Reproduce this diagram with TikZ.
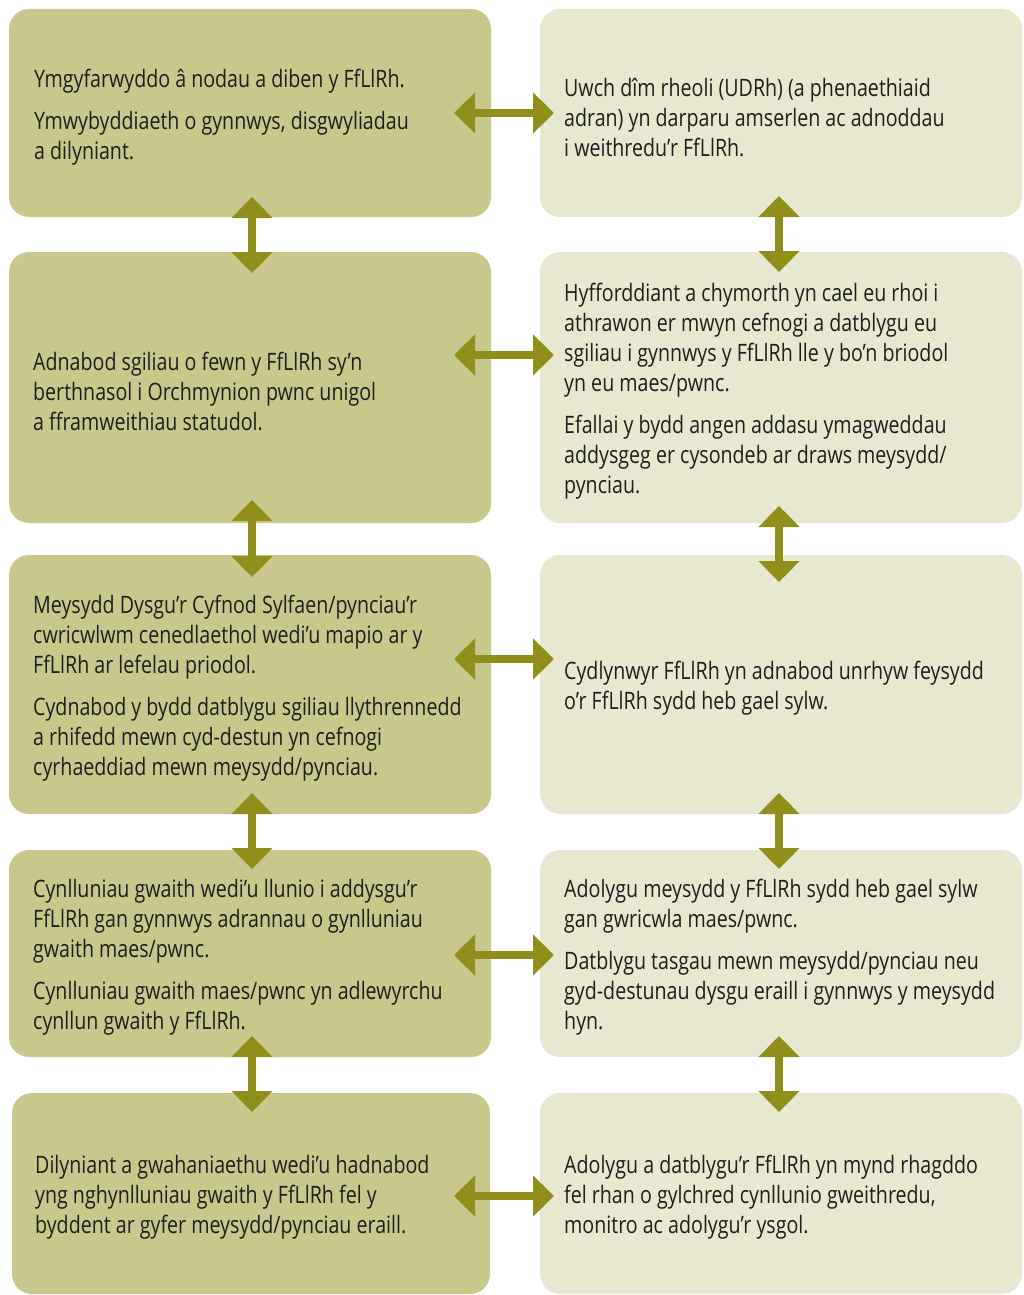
\documentclass[tikz,border=0pt]{standalone}
\usepackage{fontspec}
\setmainfont{Open Sans}[FakeStretch=0.818]
\usetikzlibrary{arrows.meta,calc}
\definecolor{boxLcol}{RGB}{200,200,140}
\definecolor{boxRcol}{RGB}{232,232,208}
\definecolor{arrcol}{RGB}{145,143,28}
\definecolor{txtcol}{RGB}{30,30,30}
\tikzset{
  boxbase/.style={rectangle, rounded corners=20pt, draw=none, inner sep=0pt, outer sep=0pt},
  boxL/.style={boxbase, fill=boxLcol},
  boxR/.style={boxbase, fill=boxRcol},
  txt/.style={anchor=west, align=left, inner sep=0pt, text=txtcol, font=\fontsize{24}{30}\selectfont},
  dbl/.style={draw=arrcol, line width=8.5pt, {Triangle[width=40pt,length=21pt,fill=arrcol]}-{Triangle[width=40pt,length=21pt,fill=arrcol]}}
}
\begin{document}
\begin{tikzpicture}[x=1pt,y=-1pt]
\useasboundingbox (0,0) rectangle (1023,1295);
% boxes
\node[boxL, minimum width=482pt, minimum height=208pt] (L1) at (250,113) {};
\node[boxR, minimum width=482pt, minimum height=208pt] (R1) at (781,113) {};
\node[boxL, minimum width=482pt, minimum height=271pt] (L2) at (250,387.5) {};
\node[boxR, minimum width=482pt, minimum height=271pt] (R2) at (781,387.5) {};
\node[boxL, minimum width=482pt, minimum height=259pt] (L3) at (250,684.5) {};
\node[boxR, minimum width=482pt, minimum height=259pt] (R3) at (781,684.5) {};
\node[boxL, minimum width=482pt, minimum height=207pt] (L4) at (250,953.5) {};
\node[boxR, minimum width=482pt, minimum height=207pt] (R4) at (781,953.5) {};
\node[boxL, minimum width=478pt, minimum height=201pt] (L5) at (251,1193.5) {};
\node[boxR, minimum width=482pt, minimum height=201pt] (R5) at (781,1193.5) {};
% texts
\node[txt] (tL1) at ($(L1.west)+(25,4)$) {Ymgyfarwyddo â nodau a diben y FfLlRh.\\[12pt]Ymwybyddiaeth o gynnwys, disgwyliadau\\a dilyniant.};
\node[txt] (tR1) at ($(R1.west)+(24,4)$) {Uwch dîm rheoli (UDRh) (a phenaethiaid\\adran) yn darparu amserlen ac adnoddau\\i weithredu’r FfLlRh.};
\node[txt] (tL2) at ($(L2.west)+(24,4)$) {Adnabod sgiliau o fewn y FfLlRh sy’n\\berthnasol i Orchmynion pwnc unigol\\a fframweithiau statudol.};
\node[txt] (tR2) at ($(R2.west)+(24,4)$) {Hyfforddiant a chymorth yn cael eu rhoi i\\athrawon er mwyn cefnogi a datblygu eu\\sgiliau i gynnwys y FfLlRh lle y bo’n briodol\\yn eu maes/pwnc.\\[12pt]Efallai y bydd angen addasu ymagweddau\\addysgeg er cysondeb ar draws meysydd/\\pynciau.};
\node[txt] (tL3) at ($(L3.west)+(24,4)$) {Meysydd Dysgu’r Cyfnod Sylfaen/pynciau’r\\cwricwlwm cenedlaethol wedi’u mapio ar y\\FfLlRh ar lefelau priodol.\\[12pt]Cydnabod y bydd datblygu sgiliau llythrennedd\\a rhifedd mewn cyd-destun yn cefnogi\\cyrhaeddiad mewn meysydd/pynciau.};
\node[txt] (tR3) at ($(R3.west)+(24,4)$) {Cydlynwyr FfLlRh yn adnabod unrhyw feysydd\\o’r FfLlRh sydd heb gael sylw.};
\node[txt] (tL4) at ($(L4.west)+(24,4)$) {Cynlluniau gwaith wedi’u llunio i addysgu’r\\FfLlRh gan gynnwys adrannau o gynlluniau\\gwaith maes/pwnc.\\[12pt]Cynlluniau gwaith maes/pwnc yn adlewyrchu\\cynllun gwaith y FfLlRh.};
\node[txt] (tR4) at ($(R4.west)+(24,4)$) {Adolygu meysydd y FfLlRh sydd heb gael sylw\\gan gwricwla maes/pwnc.\\[12pt]Datblygu tasgau mewn meysydd/pynciau neu\\gyd-destunau dysgu eraill i gynnwys y meysydd\\hyn.};
\node[txt] (tL5) at ($(L5.west)+(23,4)$) {Dilyniant a gwahaniaethu wedi’u hadnabod\\yng nghynlluniau gwaith y FfLlRh fel y\\byddent ar gyfer meysydd/pynciau eraill.};
\node[txt] (tR5) at ($(R5.west)+(24,4)$) {Adolygu a datblygu’r FfLlRh yn mynd rhagddo\\fel rhan o gylchred cynllunio gweithredu,\\monitro ac adolygu’r ysgol.};
% horizontal arrows
\draw[dbl] ($(L1.east)+(-37,0)$) -- ($(R1.west)+(14,0)$);
\draw[dbl] ($(L2.east)+(-37,-32.5)$) -- ($(R2.west)+(14,-32.5)$);
\draw[dbl] ($(L3.east)+(-37,-25.5)$) -- ($(R3.west)+(14,-25.5)$);
\draw[dbl] ($(L4.east)+(-37,1.5)$) -- ($(R4.west)+(14,1.5)$);
\draw[dbl] ($(L5.east)+(-36,2.5)$) -- ($(R5.west)+(14,2.5)$);
% vertical arrows left
\draw[dbl] ($(L1.south)+(2,-20)$) -- ($(L2.north)+(2,21)$);
\draw[dbl] ($(L2.south)+(2,-23)$) -- ($(L3.north)+(2,22)$);
\draw[dbl] ($(L3.south)+(2,-21)$) -- ($(L4.north)+(2,19)$);
\draw[dbl] ($(L4.south)+(2,-21)$) -- ($(L5.north)+(1,19)$);
% vertical arrows right
\draw[dbl] ($(R1.south)+(-2,-21)$) -- ($(R2.north)+(-2,20)$);
\draw[dbl] ($(R2.south)+(-2,-17)$) -- ($(R3.north)+(-2,27)$);
\draw[dbl] ($(R3.south)+(-2,-21)$) -- ($(R4.north)+(-2,19)$);
\draw[dbl] ($(R4.south)+(-2,-21)$) -- ($(R5.north)+(-2,19)$);
\end{tikzpicture}
\end{document}
